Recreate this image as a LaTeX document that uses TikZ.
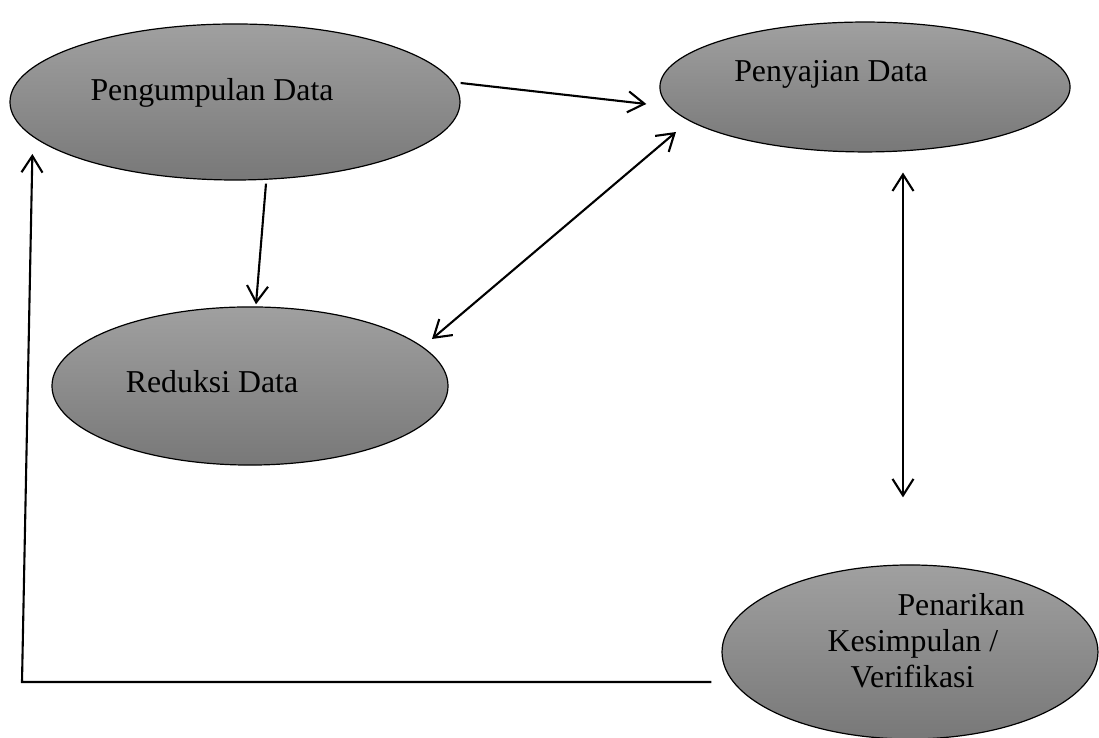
\documentclass[tikz,border=0pt]{standalone}
\usepackage{fontspec}
\setmainfont{Liberation Serif}
\usetikzlibrary{calc,arrows.meta,shapes.geometric,positioning}

\definecolor{ellTop}{RGB}{160,160,160}
\definecolor{ellBot}{RGB}{120,120,120}

\tikzset{
  proses/.style={ellipse, draw, line width=0.4pt, top color=ellTop, bottom color=ellBot, inner sep=0pt},
  panah/.style={-{Straight Barb[length=5.5pt,width=7pt]}, line width=0.7pt},
  panahDua/.style={{Straight Barb[length=5.5pt,width=7pt]}-{Straight Barb[length=5.5pt,width=7pt]}, line width=0.7pt},
  teks/.style={font=\fontsize{10.6}{12}\selectfont, inner sep=0pt}
}

\begin{document}
\begin{tikzpicture}[x=0.3333pt,y=-0.3333pt]
\useasboundingbox (0,0) rectangle (1099,738);

% the four stages
\node[proses, minimum width=150pt, minimum height=52pt] (eKumpul) at (235,102) {};
\node[proses, minimum width=136.7pt, minimum height=43.3pt] (eSaji) at (865,87) {};
\node[proses, minimum width=132pt, minimum height=52.7pt] (eReduksi) at (250,386) {};
\node[proses, minimum width=125.3pt, minimum height=58pt] (eTarik) at (910,652) {};

\node[teks, anchor=base] (tKumpul) at (212,101) {Pengumpulan Data};
\node[teks, anchor=base] (tSaji) at (831,82) {Penyajian Data};
\node[teks, anchor=base] (tReduksi) at (212,393) {Reduksi Data};
\node[teks, anchor=west, align=left] (tTarik) at (827,641)
  {\hspace*{23.3pt}Penarikan\\Kesimpulan /\\\hspace*{7.7pt}Verifikasi};

\coordinate (cBend) at (22,682);

% connectors
\draw[panah] ($(eKumpul.east)+(0,-19)$) -- ($(eSaji.west)+(-13,17)$);
\draw[panah] ($(eKumpul.south)+(31,3)$) -- ($(eReduksi.north)+(6,-2)$);
\draw[panahDua] ($(eReduksi.center)+(182,-47)$) -- ($(eSaji.center)+(-189,45)$);
\draw[panahDua] ($(eSaji.south)+(38,20)$) -- ($(eTarik.north)+(-7,-67)$);
\draw[panah] ($(eTarik.west)+(-10,30)$) -- (cBend) -- ($(eKumpul.west)+(23,52)$);

\end{tikzpicture}
\end{document}
